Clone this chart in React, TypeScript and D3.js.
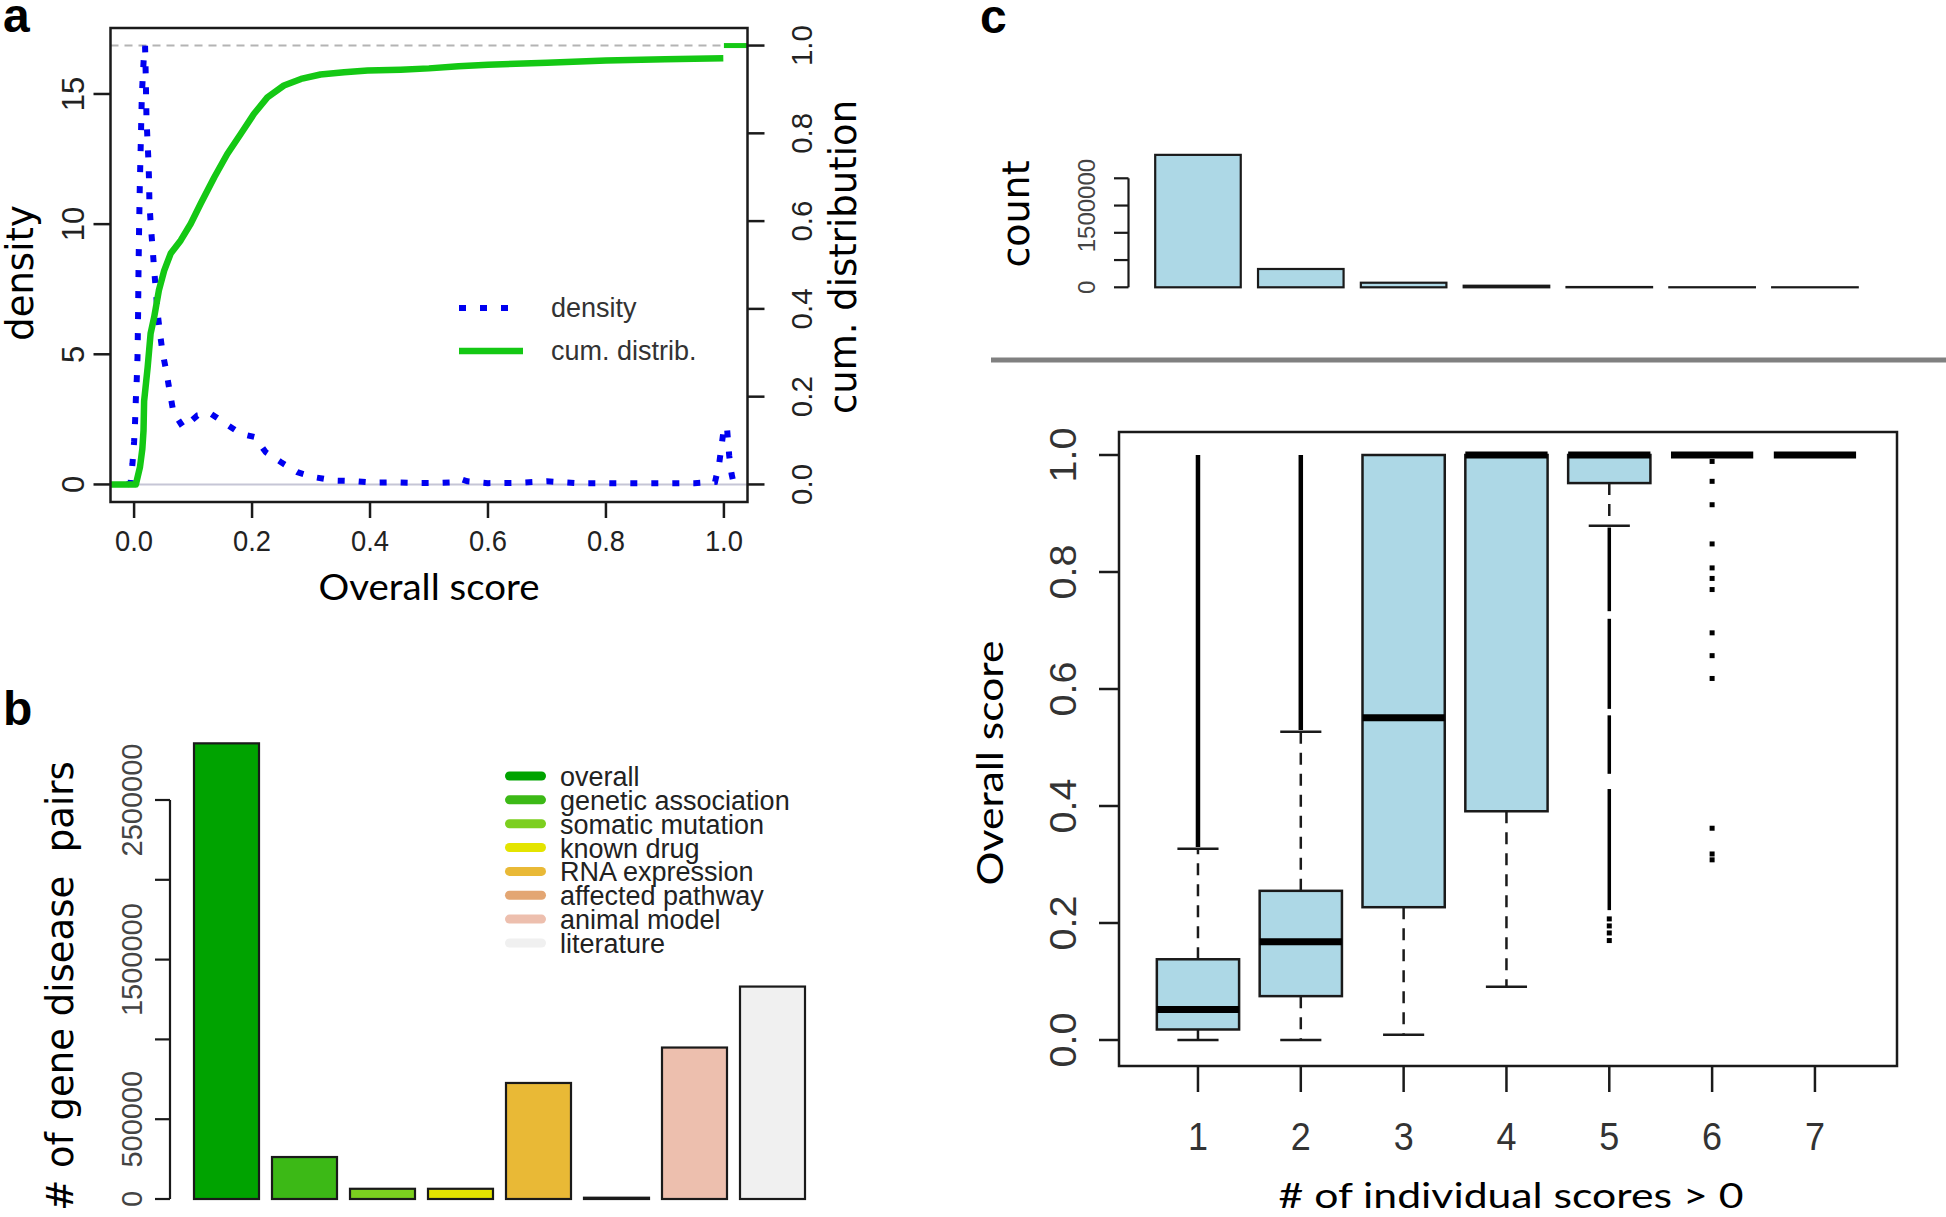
import React from 'react';
import * as d3 from 'd3';

// ---------------- Panel a data ----------------
const densityScore = [-0.012, -0.006, -0.0027, 0, 0.0017, 0.0029, 0.0046, 0.0058, 0.0068, 0.0075, 0.0085, 0.0097, 0.0114, 0.013, 0.0147, 0.0169, 0.0186, 0.0198, 0.021, 0.0227, 0.0244, 0.0254, 0.026, 0.0283, 0.0312, 0.0339, 0.0368, 0.0397, 0.0436, 0.0481, 0.0549, 0.0605, 0.0668, 0.0837, 0.1075, 0.13, 0.1554, 0.1808, 0.2046, 0.2232, 0.2486, 0.277, 0.305, 0.339, 0.373, 0.407, 0.441, 0.48, 0.52, 0.545, 0.555, 0.565, 0.6, 0.65, 0.7, 0.75, 0.8, 0.85, 0.9, 0.95, 0.985, 0.992, 0.999, 1.005, 1.009, 1.013, 1.016];
const densityValue = [0, 0.05, 0.81, 1.63, 2.43, 3.23, 4.08, 4.9, 6.58, 8.23, 9.85, 11.5, 13.17, 14.83, 15.67, 16.57, 16.85, 15.67, 14.08, 13.23, 12.4, 11.63, 10.8, 9.96, 9.13, 8.3, 7.46, 6.63, 5.86, 5.09, 4.32, 3.55, 2.76, 2.18, 2.65, 2.72, 2.33, 1.95, 1.82, 1.24, 0.86, 0.47, 0.28, 0.15, 0.13, 0.07, 0.08, 0.06, 0.06, 0.08, 0.2, 0.12, 0.05, 0.06, 0.12, 0.05, 0.05, 0.05, 0.05, 0.05, 0.1, 0.8, 2.0, 2.25, 1.1, 0.4, 0.1];
const cumScore = [-0.04, 0.003, 0.01, 0.014, 0.016, 0.017, 0.023, 0.028, 0.034, 0.042, 0.051, 0.062, 0.079, 0.096, 0.113, 0.136, 0.158, 0.181, 0.203, 0.226, 0.254, 0.283, 0.316, 0.356, 0.396, 0.452, 0.5, 0.55, 0.6, 0.7, 0.8, 0.9, 0.999];
const cumValue = [0, 0, 0.04, 0.081, 0.123, 0.19, 0.267, 0.344, 0.381, 0.442, 0.487, 0.526, 0.556, 0.594, 0.64, 0.7, 0.753, 0.799, 0.844, 0.882, 0.909, 0.924, 0.934, 0.939, 0.943, 0.945, 0.948, 0.953, 0.956, 0.961, 0.966, 0.969, 0.971];
const cumTopScore = [1.0, 1.04];
const cumTopValue = [1.0, 1.0];
const aXTicks = [0, 0.2, 0.4, 0.6, 0.8, 1.0];
const aXTickLabels = ['0.0', '0.2', '0.4', '0.6', '0.8', '1.0'];
const aDensityTicks = [0, 5, 10, 15];
const aCumTicks = [0, 0.2, 0.4, 0.6, 0.8, 1.0];
const aCumTickLabels = ['0.0', '0.2', '0.4', '0.6', '0.8', '1.0'];
const aDensityMax = 16.86;

// ---------------- Panel b data ----------------
const bCategories = ['overall', 'genetic association', 'somatic mutation', 'known drug', 'RNA expression', 'affected pathway', 'animal model', 'literature'];
const bValues = [2855000, 263000, 64000, 64000, 727000, 8000, 949000, 1331000];
const bColors = ['#00a300', '#3cb916', '#7ccf1f', '#e4e400', '#e9b936', '#e3a673', '#edbfae', '#f0f0f0'];
const bTicks = [0, 500000, 1000000, 1500000, 2000000, 2500000];
const bTickLabels = ['0', '500000', '', '1500000', '', '2500000'];

// ---------------- Panel c (top) data ----------------
const cCategories = ['1', '2', '3', '4', '5', '6', '7'];
const cCounts = [2430000, 336000, 84000, 29000, 5000, 1000, 300];
const cTicks = [0, 500000, 1000000, 1500000, 2000000];
const cTickLabels = ['0', '', '', '1500000', ''];

// ---------------- Panel c (boxplot) data ----------------
const boxGroups = [1, 2, 3, 4, 5, 6, 7];
const boxQ1 = [0.018, 0.075, 0.227, 0.391, 0.952, 1, 1];
const boxMedian = [0.052, 0.168, 0.551, 1, 1, 1, 1];
const boxQ3 = [0.138, 0.255, 1, 1, 1, 1, 1];
const boxLowerWhisker = [0, 0, 0.009, 0.091, 0.879, 1, 1];
const boxUpperWhisker = [0.327, 0.527, 1, 1, 1, 1, 1];
const outlierRangeGroup = [1, 2, 5, 5, 5, 5];
const outlierRangeLow = [0.33, 0.53, 0.733, 0.566, 0.455, 0.222];
const outlierRangeHigh = [1.0, 1.0, 0.876, 0.72, 0.555, 0.429];
const outlierGroup = [5, 5, 5, 5, 6, 6, 6, 6, 6, 6, 6, 6, 6, 6, 6, 6, 6];
const outlierValue = [0.207, 0.195, 0.183, 0.17, 0.989, 0.955, 0.915, 0.848, 0.807, 0.789, 0.77, 0.696, 0.657, 0.618, 0.362, 0.318, 0.308];
const boxYTicks = [0, 0.2, 0.4, 0.6, 0.8, 1.0];
const boxYTickLabels = ['0.0', '0.2', '0.4', '0.6', '0.8', '1.0'];

const ARIAL = "'Liberation Sans', Arial, Helvetica, sans-serif";
const DEJAVU = "'DejaVu Sans', Verdana, sans-serif";
const LATO = "Lato, Carlito, Calibri, sans-serif";
const INK = '#1a1a1a';

function PanelA() {
  const fx0 = 110.5, fx1 = 747.5, fy0 = 28, fy1 = 502;
  const x = d3.scaleLinear().domain([-0.04, 1.04]).range([fx0, fx1]);
  const yd = d3.scaleLinear().domain([-0.04 * aDensityMax, 1.04 * aDensityMax]).range([fy1, fy0]);
  const yc = d3.scaleLinear().domain([-0.04, 1.04]).range([fy1, fy0]);
  const densLine = d3.line<number>().x((_, i) => x(densityScore[i])).y((d) => yd(d));
  const cumLine = d3.line<number>().x((_, i) => x(cumScore[i])).y((d) => yc(d));
  const cumTop = d3.line<number>().x((_, i) => x(cumTopScore[i])).y((d) => yc(d));
  const green = '#14c814';
  return (
    <g>
      <text x={3} y={32} fontFamily={ARIAL} fontWeight="bold" fontSize={48} fill="#000">a</text>
      <line x1={fx0} x2={fx1} y1={yd(0)} y2={yd(0)} stroke="#c6c6d6" strokeWidth={2} />
      <line x1={fx0} x2={fx1} y1={yc(1)} y2={yc(1)} stroke="#b4b4b4" strokeWidth={2} strokeDasharray="8 6" />
      <path d={densLine(densityValue) || ''} fill="none" stroke="#0000f0" strokeWidth={6} strokeDasharray="7 14" />
      <path d={cumLine(cumValue) || ''} fill="none" stroke={green} strokeWidth={6.5} strokeLinejoin="round" />
      <path d={cumTop(cumTopValue) || ''} fill="none" stroke={green} strokeWidth={5} />
      <rect x={fx0} y={fy0} width={fx1 - fx0} height={fy1 - fy0} fill="none" stroke={INK} strokeWidth={2.5} />
      {aXTicks.map((t, i) => (
        <g key={'ax' + i}>
          <line x1={x(t)} x2={x(t)} y1={fy1} y2={fy1 + 16} stroke={INK} strokeWidth={2.5} />
          <text x={x(t)} y={551} textAnchor="middle" fontFamily={ARIAL} fontSize={30} textLength={38} lengthAdjust="spacingAndGlyphs" fill="#222">{aXTickLabels[i]}</text>
        </g>
      ))}
      {aDensityTicks.map((t, i) => (
        <g key={'ad' + i}>
          <line x1={fx0 - 17} x2={fx0} y1={yd(t)} y2={yd(t)} stroke={INK} strokeWidth={2.5} />
          <text transform={`translate(84,${yd(t)}) rotate(-90)`} textAnchor="middle" fontFamily={ARIAL} fontSize={31} fill="#222">{String(t)}</text>
        </g>
      ))}
      {aCumTicks.map((t, i) => (
        <g key={'ac' + i}>
          <line x1={fx1} x2={fx1 + 17} y1={yc(t)} y2={yc(t)} stroke={INK} strokeWidth={2.5} />
          <text transform={`translate(812,${yc(t)}) rotate(-90)`} textAnchor="middle" fontFamily={ARIAL} fontSize={30} textLength={41} lengthAdjust="spacingAndGlyphs" fill="#222">{aCumTickLabels[i]}</text>
        </g>
      ))}
      <text transform={`translate(33,273) rotate(-90)`} textAnchor="middle" fontFamily={DEJAVU} fontSize={37} fill="#000">density</text>
      <text transform={`translate(856,257) rotate(-90)`} textAnchor="middle" fontFamily={DEJAVU} fontSize={37} fill="#000">cum. distribution</text>
      <text x={429} y={600} textAnchor="middle" fontFamily={LATO} fontSize={37} textLength={221} lengthAdjust="spacingAndGlyphs" fill="#000">Overall score</text>
      <line x1={459} x2={515} y1={308} y2={308} stroke="#0000f0" strokeWidth={6} strokeDasharray="7 14" />
      <line x1={459} x2={523} y1={351} y2={351} stroke={green} strokeWidth={6.5} />
      <text x={551} y={317} fontFamily={ARIAL} fontSize={27} fill="#333">density</text>
      <text x={551} y={360} fontFamily={ARIAL} fontSize={27} fill="#333">cum. distrib.</text>
    </g>
  );
}

function PanelB() {
  const xb = d3.scaleLinear().domain([0, 9.6]).range([181, 805]);
  const y = d3.scaleLinear().domain([0, 2500000]).range([1199, 800]);
  const axX = 170;
  const legY0 = 776, legStep = 23.85;
  return (
    <g>
      <text x={3} y={725} fontFamily={ARIAL} fontWeight="bold" fontSize={48} fill="#000">b</text>
      {bValues.map((v, i) => {
        const l = xb(0.2 + 1.2 * i), r = xb(1.2 + 1.2 * i);
        return <rect key={'bb' + i} x={l} y={y(v)} width={r - l} height={y(0) - y(v)} fill={bColors[i]} stroke={INK} strokeWidth={2.2} />;
      })}
      <line x1={axX} x2={axX} y1={y(0)} y2={y(2500000)} stroke={INK} strokeWidth={2.2} />
      {bTicks.map((t, i) => (
        <g key={'bt' + i}>
          <line x1={axX - 15} x2={axX} y1={y(t)} y2={y(t)} stroke={INK} strokeWidth={2.2} />
          {bTickLabels[i] ? (
            <text transform={`translate(142,${y(t)}) rotate(-90)`} textAnchor="middle" fontFamily={ARIAL} fontSize={29} fill="#444">{bTickLabels[i]}</text>
          ) : null}
        </g>
      ))}
      <text transform={`translate(73,986) rotate(-90)`} textAnchor="middle" fontFamily={DEJAVU} fontSize={37} fill="#000" style={{ whiteSpace: 'pre' }}>{'# of gene disease  pairs'}</text>
      {bCategories.map((c, i) => (
        <g key={'bl' + i}>
          <rect x={505} y={legY0 + i * legStep - 4.5} width={41} height={9} rx={4.5} fill={bColors[i]} />
          <text x={560} y={legY0 + i * legStep + 10} fontFamily={ARIAL} fontSize={27} fill="#222">{c}</text>
        </g>
      ))}
    </g>
  );
}

function PanelC() {
  const bx0 = 1119, bx1 = 1897, by0 = 432, by1 = 1066;
  const x = d3.scaleLinear().domain([0.232, 7.798]).range([bx0, bx1]);
  const y = d3.scaleLinear().domain([0, 1]).range([1040, 455]);
  const yc = d3.scaleLinear().domain([0, 2000000]).range([287.3, 178.3]);
  const half = 0.4, capHalf = 0.2, barHalf = 0.416;
  return (
    <g>
      <text x={980} y={33} fontFamily={ARIAL} fontWeight="bold" fontSize={48} fill="#000">c</text>
      {cCounts.map((v, i) => {
        const l = x(boxGroups[i] - barHalf), r = x(boxGroups[i] + barHalf);
        return <rect key={'cb' + i} x={l} y={yc(v)} width={r - l} height={Math.max(0, yc(0) - yc(v))} fill="#add8e6" stroke={INK} strokeWidth={2.2} />;
      })}
      <line x1={1128.5} x2={1128.5} y1={yc(0)} y2={yc(2000000)} stroke={INK} strokeWidth={2.2} />
      {cTicks.map((t, i) => (
        <g key={'ct' + i}>
          <line x1={1114} x2={1128.5} y1={yc(t)} y2={yc(t)} stroke={INK} strokeWidth={2.2} />
          {cTickLabels[i] ? (
            <text transform={`translate(1095,${yc(t)}) rotate(-90)`} textAnchor="middle" fontFamily={ARIAL} fontSize={24} fill="#444">{cTickLabels[i]}</text>
          ) : null}
        </g>
      ))}
      <text transform={`translate(1029,214) rotate(-90)`} textAnchor="middle" fontFamily={DEJAVU} fontSize={38} fill="#000">count</text>
      <line x1={991} x2={1946} y1={360} y2={360} stroke="#808080" strokeWidth={5} />

      {boxGroups.map((g, i) => {
        const cx = x(g);
        const l = x(g - half), r = x(g + half);
        const cl = x(g - capHalf), cr = x(g + capHalf);
        const parts: React.ReactNode[] = [];
        if (boxQ3[i] < boxUpperWhisker[i]) {
          parts.push(<line key="uw" x1={cx} x2={cx} y1={y(boxQ3[i])} y2={y(boxUpperWhisker[i])} stroke={INK} strokeWidth={2.5} strokeDasharray="12 9" />);
          parts.push(<line key="uc" x1={cl} x2={cr} y1={y(boxUpperWhisker[i])} y2={y(boxUpperWhisker[i])} stroke={INK} strokeWidth={2.5} />);
        }
        if (boxLowerWhisker[i] < boxQ1[i]) {
          parts.push(<line key="lw" x1={cx} x2={cx} y1={y(boxQ1[i])} y2={y(boxLowerWhisker[i])} stroke={INK} strokeWidth={2.5} strokeDasharray="12 9" />);
          parts.push(<line key="lc" x1={cl} x2={cr} y1={y(boxLowerWhisker[i])} y2={y(boxLowerWhisker[i])} stroke={INK} strokeWidth={2.5} />);
        }
        if (boxQ3[i] > boxQ1[i]) {
          parts.push(<rect key="bx" x={l} y={y(boxQ3[i])} width={r - l} height={y(boxQ1[i]) - y(boxQ3[i])} fill="#add8e6" stroke={INK} strokeWidth={2.5} />);
        }
        parts.push(<line key="md" x1={l} x2={r} y1={y(boxMedian[i])} y2={y(boxMedian[i])} stroke="#000" strokeWidth={7} />);
        return <g key={'bp' + i}>{parts}</g>;
      })}
      {outlierRangeGroup.map((g, i) => (
        <line key={'or' + i} x1={x(g)} x2={x(g)} y1={y(outlierRangeLow[i])} y2={y(outlierRangeHigh[i])} stroke="#000" strokeWidth={i < 2 ? 4.5 : 3.5} />
      ))}
      {outlierGroup.map((g, i) => (
        <rect key={'op' + i} x={x(g) - 2.5} y={y(outlierValue[i]) - 2.5} width={5} height={5} fill="#000" />
      ))}
      <rect x={bx0} y={by0} width={bx1 - bx0} height={by1 - by0} fill="none" stroke={INK} strokeWidth={2.5} />
      {boxYTicks.map((t, i) => (
        <g key={'cy' + i}>
          <line x1={bx0 - 20} x2={bx0} y1={y(t)} y2={y(t)} stroke={INK} strokeWidth={2.5} />
          <text transform={`translate(1076,${y(t)}) rotate(-90)`} textAnchor="middle" fontFamily={ARIAL} fontSize={37} textLength={55} lengthAdjust="spacingAndGlyphs" fill="#333">{boxYTickLabels[i]}</text>
        </g>
      ))}
      {boxGroups.map((g, i) => (
        <g key={'cx' + i}>
          <line x1={x(g)} x2={x(g)} y1={by1} y2={by1 + 26} stroke={INK} strokeWidth={2.5} />
          <text x={x(g)} y={1150} textAnchor="middle" fontFamily={ARIAL} fontSize={38} textLength={20} lengthAdjust="spacingAndGlyphs" fill="#333">{cCategories[i]}</text>
        </g>
      ))}
      <text transform={`translate(1003,763) rotate(-90)`} textAnchor="middle" fontFamily={LATO} fontSize={37} textLength={245} lengthAdjust="spacingAndGlyphs" fill="#000">Overall score</text>
      <text x={1511} y={1208} textAnchor="middle" fontFamily={LATO} fontSize={35} textLength={465} lengthAdjust="spacingAndGlyphs" fill="#000"># of individual scores &gt; 0</text>
    </g>
  );
}

export default function App() {
  return (
    <svg width={1946} height={1217} viewBox="0 0 1946 1217" style={{ position: 'absolute', left: 0, top: 0, background: '#fff' }}>
      <rect x={0} y={0} width={1946} height={1217} fill="#fff" />
      <PanelA />
      <PanelB />
      <PanelC />
    </svg>
  );
}
